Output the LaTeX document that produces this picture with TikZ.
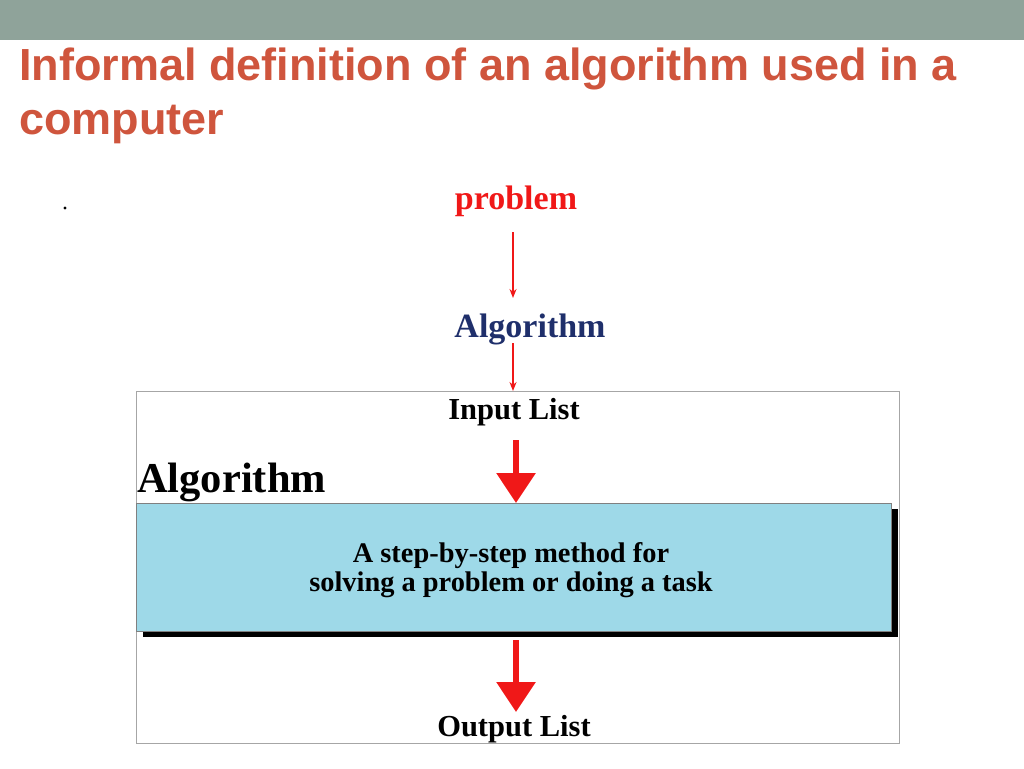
\documentclass[tikz,border=0pt]{standalone}
\usepackage{fontspec}
\setmainfont{Liberation Serif}
\newfontfamily\titlefont{Liberation Sans}
\usetikzlibrary{arrows.meta}
\definecolor{barc}{HTML}{8FA39A}
\definecolor{titc}{HTML}{CF553D}
\definecolor{navy}{HTML}{1F2F6B}
\definecolor{boxc}{HTML}{9ED9E8}
\definecolor{redc}{HTML}{F01818}
\tikzset{
  thinarr/.style={draw=redc,line width=1.8pt,-{Stealth[length=9pt,width=7pt]}},
  bigarr/.style={draw=redc,line width=6pt,-{Triangle[length=30pt,width=38pt]}},
  lab/.style={inner sep=0pt,font=\fontsize{30.5}{34}\selectfont\bfseries}
}
\begin{document}
\begin{tikzpicture}[x=1pt,y=-1pt]
\useasboundingbox (0,0) rectangle (1024,768);
\fill[barc] (0,0) rectangle (1024,40);
\node[anchor=west,inner sep=0pt,text=titc,font=\titlefont\fontsize{45}{50}\selectfont\bfseries] (t1) at (19,69) {Informal definition of an algorithm used in a};
\node[anchor=west,inner sep=0pt,text=titc,font=\titlefont\fontsize{45}{50}\selectfont\bfseries] (t2) at (19,124) {computer};
\fill (65,208) circle (1.6);
\node[lab,text=redc,font=\fontsize{34}{38}\selectfont\bfseries] (prob) at (516,201) {problem};
\node[lab,text=navy,font=\fontsize{34}{38}\selectfont\bfseries] (alg) at (530,329) {Algorithm};
\coordinate (a1) at (513,232); \coordinate (a2) at (513,298);
\draw[thinarr] (a1) -- (a2);
\coordinate (b1) at (513,343); \coordinate (b2) at (513,391);
\draw[thinarr] (b1) -- (b2);
\draw[gray!70,line width=0.8pt] (136,391) rectangle (899,743);
\node[lab] (in) at (514,412) {Input List};
\node[anchor=west,inner sep=0pt,font=\fontsize{42.5}{46}\selectfont\bfseries] (algt) at (137,482) {Algorithm};
\fill[black] (143,509) rectangle (898,637);
\draw[gray,fill=boxc,line width=0.8pt] (136,503) rectangle (891,631);
\node[inner sep=0pt,align=center,font=\fontsize{28.4}{29}\selectfont\bfseries] (txt) at (511,570) {A step-by-step method for\\solving a problem or doing a task};
\coordinate (c1) at (516,440); \coordinate (c2) at (516,503);
\draw[bigarr] (c1) -- (c2);
\coordinate (d1) at (516,640); \coordinate (d2) at (516,712);
\draw[bigarr] (d1) -- (d2);
\node[lab] (out) at (514,729) {Output List};
\end{tikzpicture}
\end{document}
